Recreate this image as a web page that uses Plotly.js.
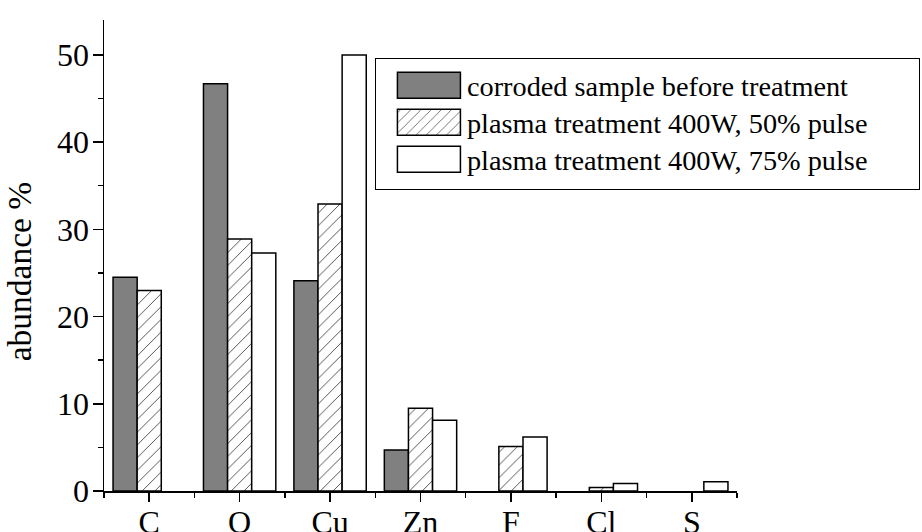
<!DOCTYPE html>
<html><head><meta charset="utf-8">
<script src="https://cdn.plot.ly/plotly-3.0.1.min.js"></script>
<style>html,body{margin:0;padding:0;background:#fff;} #chart{width:922px;height:532px;}</style>
</head><body><div id="chart"></div>
<script>
const categories = ['C', 'O', 'Cu', 'Zn', 'F', 'Cl', 'S'];
const seriesNames = ['corroded sample before treatment', 'plasma treatment 400W, 50% pulse', 'plasma treatment 400W, 75% pulse'];
const beforeTreatment = [24.5, 46.7, 24.1, 4.7, null, null, null];
const pulse50 = [23.0, 28.9, 32.9, 9.5, 5.1, 0.4, null];
const pulse75 = [null, 27.3, 50.0, 8.1, 6.2, 0.85, 1.05];
const yTickVals = [0, 10, 20, 30, 40, 50];
const yTitle = 'abundance %';

const xIdx = categories.map((c, i) => i);
const boundaries = categories.map((c, i) => i - 0.5).concat([categories.length - 0.5]);
const FONT = '"Liberation Serif", "Times New Roman", serif';
const outline = {color: '#000', width: 1.5};

const traces = [
  {type: 'bar', name: seriesNames[0], x: xIdx, y: beforeTreatment,
   marker: {color: '#808080', line: outline}},
  {type: 'bar', name: seriesNames[1], x: xIdx, y: pulse50,
   marker: {color: '#ffffff', line: outline,
            pattern: {shape: '/', fgcolor: '#444', bgcolor: '#ffffff', size: 9, solidity: 0.1}}},
  {type: 'bar', name: seriesNames[2], x: xIdx, y: pulse75,
   marker: {color: '#ffffff', line: outline}}
];

const layout = {
  width: 922, height: 532,
  margin: {l: 104, r: 185, t: 20, b: 41, pad: 0},
  paper_bgcolor: '#fff', plot_bgcolor: '#fff',
  font: {family: FONT, color: '#000', size: 28},
  barmode: 'group', bargap: 0.2, bargroupgap: 0,
  showlegend: true,
  xaxis: {
    range: [-0.5, 6.5], tickmode: 'array', tickvals: xIdx, ticktext: categories,
    ticks: 'outside', ticklen: 9, tickwidth: 1.5, tickcolor: '#000',
    showline: true, linewidth: 1.5, linecolor: '#000',
    showgrid: false, zeroline: false, ticklabelstandoff: -7,
    tickfont: {family: FONT, size: 32, color: '#000'},
    minor: {tickmode: 'array', tickvals: boundaries, ticks: 'outside', ticklen: 5, tickwidth: 1.5, tickcolor: '#000', showgrid: false}
  },
  yaxis: {
    range: [0, 54], tickmode: 'array', tickvals: yTickVals,
    ticks: 'outside', ticklen: 10, tickwidth: 1.5, tickcolor: '#000',
    showline: true, linewidth: 1.5, linecolor: '#000',
    showgrid: false, zeroline: false, ticklabelstandoff: -3,
    tickfont: {family: FONT, size: 32, color: '#000'},
    minor: {dtick: 5, tick0: 0, ticks: 'outside', ticklen: 5, tickwidth: 1.5, tickcolor: '#000', showgrid: false}
  },
  annotations: [{
    text: yTitle, textangle: -90, showarrow: false,
    xref: 'paper', yref: 'paper', x: -0.133, y: 0.466, xanchor: 'center', yanchor: 'middle',
    font: {family: FONT, size: 33.5, color: '#000'}
  }],
  legend: {
    x: 0.428, y: 0.919, xanchor: 'left', yanchor: 'top',
    bgcolor: '#fff', bordercolor: '#000', borderwidth: 1,
    font: {family: FONT, size: 28.3, color: '#000'},
    itemwidth: 66, tracegroupgap: 0, traceorder: 'normal'
  }
};

Plotly.newPlot('chart', traces, layout, {staticPlot: true, displayModeBar: false}).then(function (gd) {
  const leg = gd.querySelector('.legend');
  if (!leg) return;
  leg.querySelectorAll('[clip-path]').forEach(function (e) { e.removeAttribute('clip-path'); });
  leg.querySelectorAll('.legendpoints path').forEach(function (p) {
    p.setAttribute('d', 'M-31.5,-13H31.5V13H-31.5Z');
  });
  const bg = leg.querySelector('rect.bg');
  if (bg) bg.setAttribute('width', 544);
  leg.querySelectorAll('g.traces').forEach(function (g, i) {
    const m = /translate\(\s*([-\d.e]+)[ ,]+([-\d.e]+)/.exec(g.getAttribute('transform') || '');
    const x0 = m ? parseFloat(m[1]) : 0;
    g.setAttribute('transform', 'translate(' + (x0 + 15) + ',' + (27 + i * 37) + ')');
  });
});
</script>
</body></html>
